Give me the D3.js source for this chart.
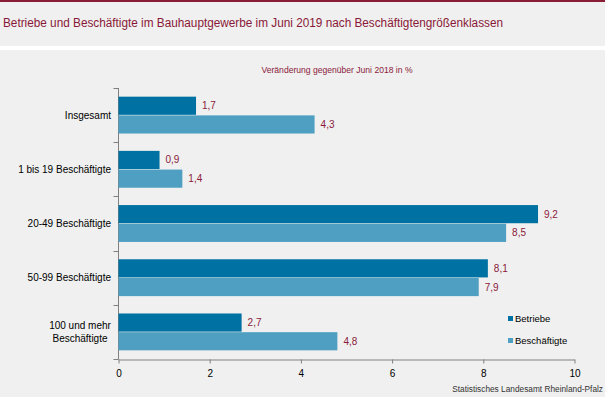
<!DOCTYPE html>
<html>
<head>
<meta charset="utf-8">
<script src="https://cdn.jsdelivr.net/npm/d3@7"></script>
<style>
  body { margin: 0; background: #fff; }
  text { font-family: "Liberation Sans", Arial, sans-serif; }
</style>
</head>
<body>
<svg width="605" height="397"></svg>
<script>
// data
var categories = ["Insgesamt", "1 bis 19 Beschäftigte", "20-49 Beschäftigte", "50-99 Beschäftigte", "100 und mehr|Beschäftigte"];
var seriesNames = ["Betriebe", "Beschäftigte"];
var betriebe = [1.7, 0.9, 9.2, 8.1, 2.7];
var beschaeftigte = [4.3, 1.4, 8.5, 7.9, 4.8];
var xTicks = [0, 2, 4, 6, 8, 10];

var colors = ["#0071a3", "#4f9fc3"];
var red = "#8c1a3c";

var rows = categories.map(function (c, i) {
  return { cat: c, values: [betriebe[i], beschaeftigte[i]] };
});

var svg = d3.select("svg");

// backgrounds
svg.append("rect").attr("width", 605).attr("height", 397).attr("fill", "#eff0ef");
svg.append("rect").attr("y", 46).attr("width", 605).attr("height", 4).attr("fill", "#ffffff");
svg.append("rect").attr("width", 605).attr("height", 2).attr("fill", "#8a1c35");

svg.append("text")
  .attr("x", 3).attr("y", 27)
  .attr("font-size", 12)
  .attr("textLength", 500)
  .attr("lengthAdjust", "spacingAndGlyphs")
  .attr("fill", "#8a1838")
  .text("Betriebe und Beschäftigte im Bauhauptgewerbe im Juni 2019 nach Beschäftigtengrößenklassen");

svg.append("text")
  .attr("x", 337).attr("y", 73)
  .attr("text-anchor", "middle")
  .attr("font-size", 9.5)
  .attr("textLength", 151)
  .attr("lengthAdjust", "spacingAndGlyphs")
  .attr("fill", red)
  .text("Veränderung gegenüber Juni 2018 in %");

var x = d3.scaleLinear().domain([0, 10]).range([118.5, 574.5]);
var y0 = d3.scaleBand().domain(categories).range([88, 359]).paddingInner(0.32).paddingOuter(0.16);
var y1 = d3.scaleBand().domain(seriesNames).range([0, y0.bandwidth()]).paddingInner(0.03);

// y axis
var yAxis = svg.append("g").attr("transform", "translate(118.5,0)");
yAxis.append("line").attr("y1", 88).attr("y2", 359.5).attr("stroke", "#808080");
yAxis.selectAll(".tk").data(d3.range(categories.length + 1)).enter().append("line")
  .attr("x1", -5).attr("x2", 0)
  .attr("y1", function (d) { return Math.round(88 + d * y0.step()) + 0.5; })
  .attr("y2", function (d) { return Math.round(88 + d * y0.step()) + 0.5; })
  .attr("stroke", "#808080");

// x axis
var xAxis = svg.append("g").attr("transform", "translate(0,359.5)")
  .call(d3.axisBottom(x).tickValues(xTicks).tickSize(4).tickSizeOuter(0).tickPadding(6));
xAxis.select(".domain").attr("stroke", "#808080");
xAxis.selectAll(".tick line").attr("stroke", "#808080");
xAxis.selectAll(".tick text").attr("font-size", 10).attr("fill", "#000")
  .attr("font-family", "Liberation Sans, Arial, sans-serif");

// category labels
rows.forEach(function (r) {
  var parts = r.cat.split("|");
  var cy = y0(r.cat) + y0.bandwidth() / 2;
  var t = svg.append("text")
    .attr("font-size", 10).attr("fill", "#000")
    .attr("text-anchor", parts.length > 1 ? "middle" : "end");
  parts.forEach(function (p, k) {
    t.append("tspan")
      .attr("x", parts.length > 1 ? 80 : 111)
      .attr("y", cy + 3.5 + (k - (parts.length - 1) / 2) * 13)
      .text(p);
  });
});

// bars
var groups = svg.selectAll(".grp").data(rows).enter().append("g")
  .attr("transform", function (d) { return "translate(0," + y0(d.cat) + ")"; });

groups.selectAll("rect").data(function (d) { return d.values; }).enter().append("rect")
  .attr("x", x(0))
  .attr("y", function (d, i) { return y1(seriesNames[i]); })
  .attr("width", function (d) { return x(d) - x(0); })
  .attr("height", y1.bandwidth())
  .attr("fill", function (d, i) { return colors[i]; });

groups.selectAll(".val").data(function (d) { return d.values; }).enter().append("text")
  .attr("x", function (d) { return x(d) + 6; })
  .attr("y", function (d, i) { return y1(seriesNames[i]) + y1.bandwidth() / 2 + 3.5; })
  .attr("font-size", 10)
  .attr("fill", red)
  .text(function (d) { return d3.format(".1f")(d).replace(".", ","); });

// legend
var legend = svg.selectAll(".leg").data(seriesNames).enter().append("g")
  .attr("transform", function (d, i) { return "translate(508," + (316 + i * 22) + ")"; });
legend.append("rect").attr("width", 5).attr("height", 5)
  .attr("fill", function (d, i) { return colors[i]; });
legend.append("text").attr("x", 7).attr("y", 5.5)
  .attr("font-size", 9.5).attr("fill", "#000")
  .text(function (d) { return d; });

svg.append("text")
  .attr("x", 603).attr("y", 392)
  .attr("text-anchor", "end")
  .attr("font-size", 8.3)
  .attr("fill", "#333")
  .text("Statistisches Landesamt Rheinland-Pfalz");
</script>
</body>
</html>
